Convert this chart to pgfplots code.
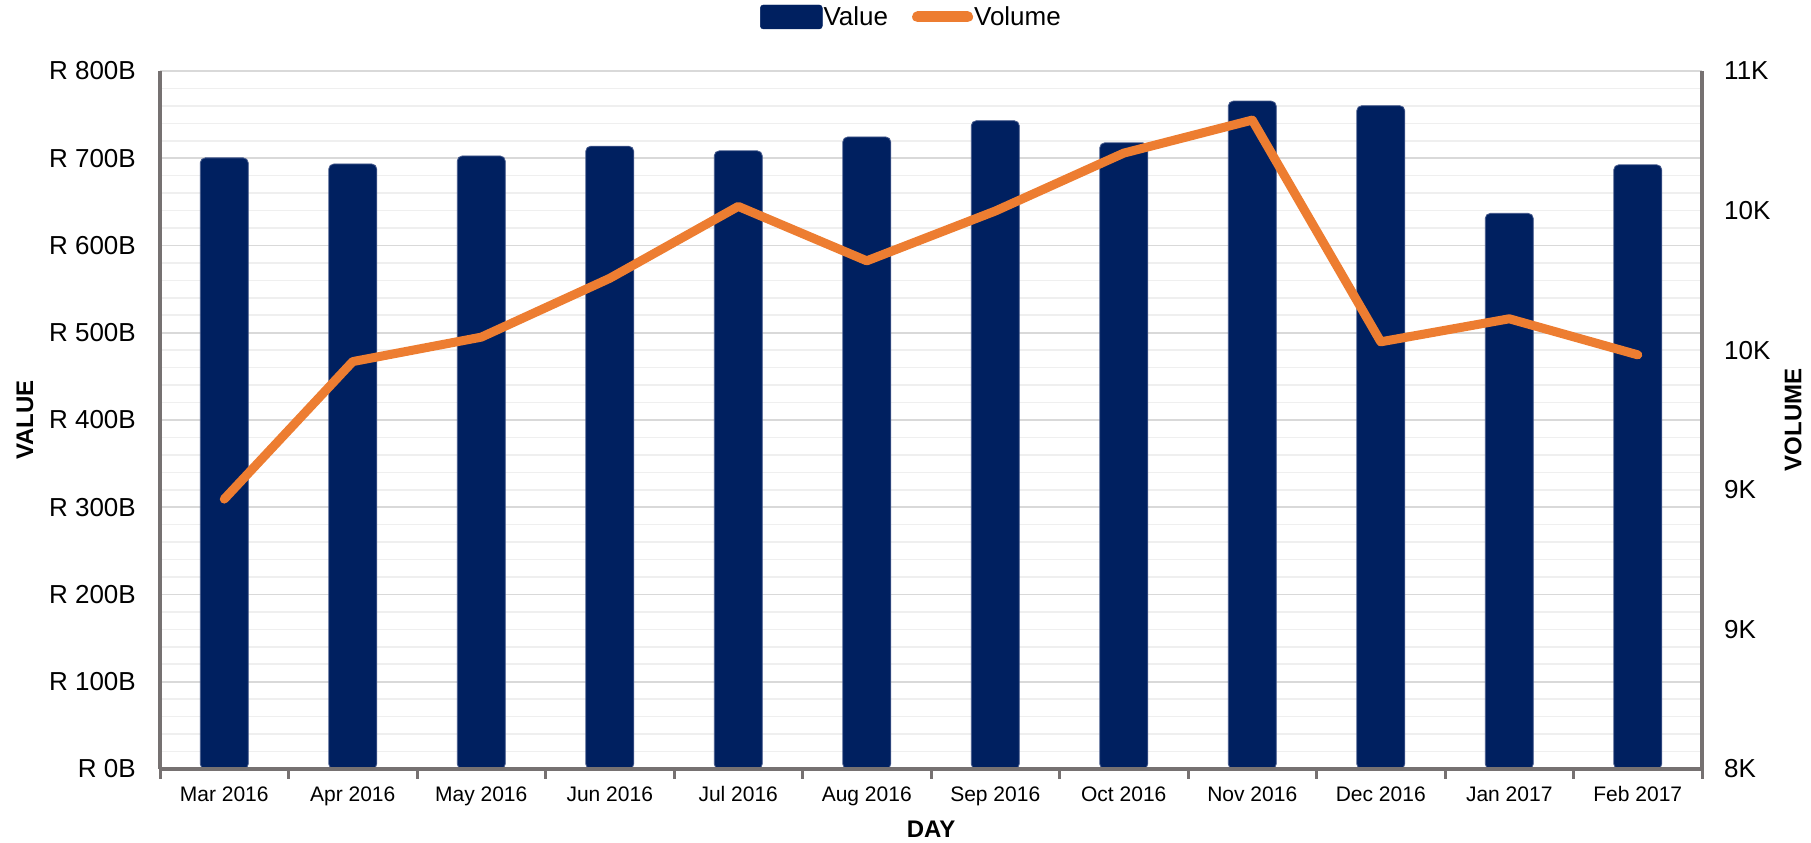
\documentclass[border=0pt]{standalone}
\usepackage{fontspec}
\setmainfont{Liberation Sans}
\usepackage{pgfplots}
\pgfplotsset{compat=1.18}
\definecolor{navy}{HTML}{002060}
\definecolor{orng}{HTML}{ED7D31}
\definecolor{axgray}{HTML}{767171}
\definecolor{gridmaj}{HTML}{D9D9D9}
\definecolor{gridmin}{HTML}{EFEFEF}
\begin{document}
\begin{tikzpicture}[x=1bp,y=1bp]
\path[use as bounding box] (0,0) rectangle (1811,843);
\begin{axis}[
  at={(160bp,74bp)}, anchor=south west,
  width=1542bp, height=698bp, scale only axis,
  xmin=-0.5, xmax=11.5, ymin=0, ymax=800,
  axis x line*=bottom, axis y line*=left,
  axis line style={draw=axgray, line width=4bp},
  xtick={0,...,11},
  xticklabels={Mar 2016,Apr 2016,May 2016,Jun 2016,Jul 2016,Aug 2016,Sep 2016,Oct 2016,Nov 2016,Dec 2016,Jan 2017,Feb 2017},
  minor xtick={-0.5,0.5,...,11.5},
  major tick length=0bp, minor tick length=10bp, tick align=outside,
  major x tick style={draw=none},
  minor x tick style={draw=axgray, line width=3bp},
  ytick={0,100,...,800},
  yticklabels={R 0B,R 100B,R 200B,R 300B,R 400B,R 500B,R 600B,R 700B,R 800B},
  minor y tick num=4,
  ytick style={draw=none},
  ymajorgrids, yminorgrids,
  major grid style={draw=gridmaj, line width=1.6bp},
  minor grid style={draw=gridmin, line width=1.6bp},
  /pgf/number format/assume math mode=true,
  yticklabel style={font=\fontsize{26bp}{30bp}\selectfont, anchor=east, inner sep=0pt, xshift=-24bp},
  xticklabel style={font=\fontsize{21bp}{25bp}\selectfont, anchor=base, inner sep=0pt, yshift=-33bp},
  xlabel={DAY}, ylabel={VALUE},
  xlabel style={font=\fontsize{24bp}{28bp}\selectfont\bfseries, at={(axis description cs:0.5,-0.086)}, anchor=center},
  ylabel style={font=\fontsize{24bp}{28bp}\selectfont\bfseries, at={(axis description cs:-0.0875,0.5)}, anchor=center, rotate=0},
  clip=false,
]
\addplot[ybar, bar width=48bp, fill=navy, draw={rgb,255:red,70;green,90;blue,140}, line width=0.8bp, rounded corners=5bp]
  coordinates {(0,700.4) (1,693.4) (2,702.6) (3,713.8) (4,708.5) (5,724.4) (6,743.0) (7,717.7) (8,765.5) (9,760.2) (10,636.8) (11,692.5)};
\end{axis}
\begin{axis}[
  at={(160bp,74bp)}, anchor=south west,
  width=1542bp, height=698bp, scale only axis,
  xmin=-0.5, xmax=11.5, ymin=8000, ymax=11000,
  axis x line*=bottom, axis y line*=right,
  axis line style={draw=axgray, line width=4bp},
  xtick=\empty,
  ytick={8000,8600,9200,9800,10400,11000},
  yticklabels={8K,9K,9K,10K,10K,11K},
  scaled y ticks=false,
  major tick length=0bp,
  ytick style={draw=none},
  /pgf/number format/assume math mode=true,
  yticklabel style={font=\fontsize{26bp}{30bp}\selectfont, anchor=west, inner sep=0pt, xshift=22bp},
  ylabel={VOLUME},
  ylabel style={font=\fontsize{24bp}{28bp}\selectfont\bfseries, at={(axis description cs:1.059,0.5)}, anchor=center, rotate=0},
  legend columns=2,
  legend style={at={(axis description cs:0.487,1.0774)}, anchor=center, draw=none, fill=none,
    font=\fontsize{26bp}{30bp}\selectfont, nodes={inner sep=1bp},
    /tikz/every even column/.append style={column sep=23bp}},
  legend cell align=left,
]
\addlegendimage{legend image code/.code={\fill[navy, rounded corners=3bp] (0bp,-12bp) rectangle (62bp,12bp);}}
\addlegendentry{Value}
\addplot[orng, line width=9bp, line join=round, line cap=round,
  legend image code/.code={\draw[orng, line width=11bp, line cap=round] (6bp,0bp) -- (56bp,0bp);}]
  coordinates {(0,9160) (1,9751) (2,9856) (3,10109) (4,10418) (5,10184) (6,10398) (7,10647) (8,10789) (9,9836) (10,9935) (11,9780)};
\addlegendentry{Volume}
\end{axis}
\end{tikzpicture}
\end{document}
